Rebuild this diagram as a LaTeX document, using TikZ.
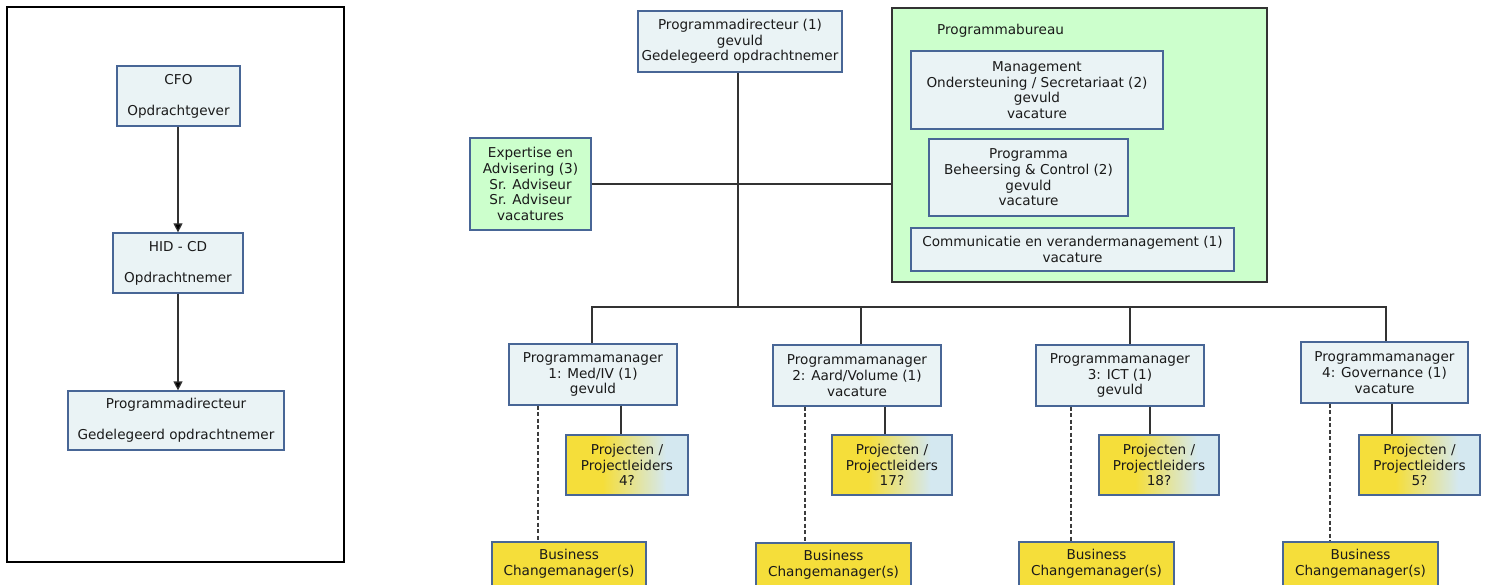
\documentclass[tikz,border=0pt]{standalone}
\usepackage{fontspec}
\setmainfont{DejaVu Sans}
\usetikzlibrary{arrows.meta}
\usetikzlibrary{calc}
\definecolor{boxblue}{RGB}{234,243,245}
\definecolor{boxedge}{RGB}{72,102,150}
\definecolor{boxgreen}{RGB}{204,255,204}
\definecolor{boxyellow}{RGB}{245,222,58}
\definecolor{projblue}{RGB}{212,232,240}
\definecolor{linegray}{RGB}{51,51,51}
\definecolor{dashgray}{RGB}{60,60,60}
\definecolor{txt}{RGB}{26,26,26}
\pgfdeclarehorizontalshading{projshade}{100bp}{color(0bp)=(boxyellow); color(40bp)=(boxyellow); color(66bp)=(projblue); color(100bp)=(projblue)}
\tikzset{
  orgtxt/.style={font=\fontsize{13.6}{15.7}\selectfont, text=txt, align=center, inner sep=0pt},
  bluebox/.style={orgtxt, draw=boxedge, fill=boxblue, line width=1.2pt},
  greenbox/.style={orgtxt, draw=boxedge, fill=boxgreen, line width=1.2pt},
  yellowbox/.style={orgtxt, draw=boxedge, fill=boxyellow, line width=1.2pt},
  projbox/.style={orgtxt, draw=boxedge, shading=projshade, line width=1.2pt},
  link/.style={draw=linegray, line width=1.2pt},
  dlink/.style={draw=dashgray, line width=1.3pt, dash pattern=on 4pt off 2.5pt},
}
% box from corner (x1,y1) to corner (x2,y2), in pixels
\newcommand\orgbox[7]{
  \node[#2, minimum width={(#5-#3)*1pt}, minimum height={(#6-#4)*1pt}] (#1) at ({(#3+#5)/2},{(#4+#6)/2}) {#7};
}

\begin{document}
\begin{tikzpicture}[x=1pt,y=-1pt]
\useasboundingbox (0,0) rectangle (1491,585);
\clip (0,0) rectangle (1491,585);

% left panel
\draw[black, line width=1.2pt] (7,7) rectangle (344,562);
\orgbox{cfo}{bluebox}{117}{66}{240}{126}{CFO\\[15.5pt]Opdrachtgever};
\orgbox{hid}{bluebox}{113}{233}{243}{293}{HID - CD\\[15.5pt]Opdrachtnemer};
\orgbox{pdl}{bluebox}{68}{391}{284}{450}{Programmadirecteur\\[15.5pt]Gedelegeerd opdrachtnemer};
\draw[link, -{Triangle[width=9pt,length=9pt,fill=black]}] (cfo.south -| 178,0) -- (hid.north -| 178,0);
\draw[link, -{Triangle[width=9pt,length=9pt,fill=black]}] (hid.south -| 178,0) -- (pdl.north -| 178,0);

% programmabureau
\orgbox{bureau}{greenbox, draw=linegray}{892}{8}{1267}{282}{};
\node[orgtxt, anchor=west] (bureaulbl) at (937,31) {Programmabureau};
\orgbox{mgmt}{bluebox}{911}{51}{1163}{129}{Management\\Ondersteuning / Secretariaat (2)\\gevuld\\vacature};
\orgbox{beh}{bluebox}{929}{139}{1128}{216}{Programma\\Beheersing \& Control (2)\\gevuld\\vacature};
\orgbox{comm}{bluebox}{911}{228}{1234}{271}{Communicatie en verandermanagement (1)\\vacature};

% top
\orgbox{pd}{bluebox}{638}{11}{842}{72}{Programmadirecteur (1)\\gevuld\\Gedelegeerd opdrachtnemer};
\orgbox{exp}{greenbox}{470}{138}{591}{230}{Expertise en\\Advisering (3)\\Sr. Adviseur\\Sr. Adviseur\\vacatures};

% programmamanagers
\orgbox{pm1}{bluebox}{509}{344}{677}{405}{Programmamanager\\1: Med/IV (1)\\gevuld};
\orgbox{pm2}{bluebox}{773}{345}{941}{406}{Programmamanager\\2: Aard/Volume (1)\\vacature};
\orgbox{pm3}{bluebox}{1036}{345}{1204}{406}{Programmamanager\\3: ICT (1)\\gevuld};
\orgbox{pm4}{bluebox}{1301}{342}{1468}{403}{Programmamanager\\4: Governance (1)\\vacature};

\orgbox{pj1}{projbox}{566}{435}{688}{495}{Projecten /\\Projectleiders\\4?};
\orgbox{pj2}{projbox}{832}{435}{952}{495}{Projecten /\\Projectleiders\\17?};
\orgbox{pj3}{projbox}{1099}{435}{1219}{495}{Projecten /\\Projectleiders\\18?};
\orgbox{pj4}{projbox}{1359}{435}{1480}{495}{Projecten /\\Projectleiders\\5?};

\orgbox{bc1}{yellowbox}{492}{542}{646}{586}{Business\\Changemanager(s)};
\orgbox{bc2}{yellowbox}{756}{543}{911}{587}{Business\\Changemanager(s)};
\orgbox{bc3}{yellowbox}{1019}{542}{1174}{586}{Business\\Changemanager(s)};
\orgbox{bc4}{yellowbox}{1283}{542}{1438}{586}{Business\\Changemanager(s)};

% connectors
\coordinate (bus) at (738,307);
\draw[link] (pd.south -| bus) -- (bus);
\draw[link] (exp.east) -- (exp.east -| bureau.west);
\draw[link] (pm1.north -| 592,0) -- (592,307) -- (1386,307) -- (pm4.north -| 1386,0);
\draw[link] (861,307) -- (pm2.north -| 861,0);
\draw[link] (1130,307) -- (pm3.north -| 1130,0);

\draw[link] (pm1.south -| 621,0) -- (pj1.north -| 621,0);
\draw[link] (pm2.south -| 885,0) -- (pj2.north -| 885,0);
\draw[link] (pm3.south -| 1150,0) -- (pj3.north -| 1150,0);
\draw[link] (pm4.south -| 1392,0) -- (pj4.north -| 1392,0);

\draw[dlink] (pm1.south -| 538,0) -- (bc1.north -| 538,0);
\draw[dlink] (pm2.south -| 805,0) -- (bc2.north -| 805,0);
\draw[dlink] (pm3.south -| 1071,0) -- (bc3.north -| 1071,0);
\draw[dlink] (pm4.south -| 1330,0) -- (bc4.north -| 1330,0);

\end{tikzpicture}
\end{document}
